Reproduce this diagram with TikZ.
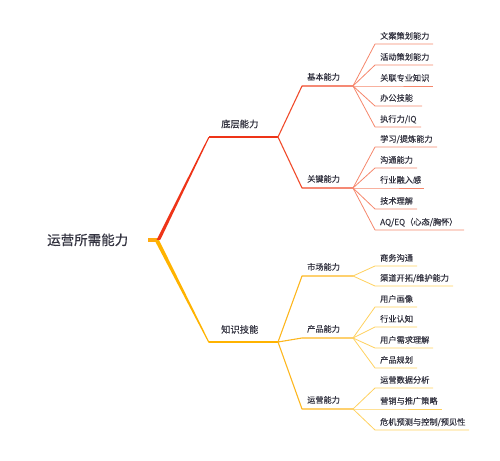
\documentclass[tikz,border=0pt]{standalone}
\usepackage{fontspec}
\setmainfont{Noto Sans CJK SC}
\newfontfamily\cjkmed[FakeBold=0.6]{Noto Sans CJK SC}
\newfontfamily\cjklight[FakeBold=0.25]{Noto Sans CJK SC}
\definecolor{redA}{HTML}{EE3418}
\definecolor{redB}{HTML}{F04A2A}
\definecolor{redC}{HTML}{F5876C}
\definecolor{yelA}{HTML}{FFB300}
\definecolor{yelB}{HTML}{FDB720}
\definecolor{yelC}{HTML}{FFD15E}
\definecolor{stub}{HTML}{FFAA10}
\definecolor{txt}{HTML}{333340}
\tikzset{
  rootlbl/.style={anchor=base west, inner sep=0pt, text=txt, font=\cjkmed\fontsize{13.5}{14}\selectfont},
  l1lbl/.style={anchor=base west, inner sep=0pt, text=txt, font=\cjkmed\fontsize{9.3}{10}\selectfont},
  l2lbl/.style={anchor=base west, inner sep=0pt, text=txt, font=\cjklight\fontsize{8.2}{9}\selectfont},
  leaflbl/.style={anchor=base west, inner sep=0pt, text=txt, font=\cjklight\fontsize{8.2}{9}\selectfont},
  l1line/.style={line width=1.3pt},
  l2line/.style={line width=1.1pt, line join=round},
  leafline/.style={line width=0.8pt, line join=round},
}
\newcommand\myleaf[6]{%
  \coordinate (#1s) at (375,#3);
  \coordinate (#1e) at (#4,#3);
  \node[leaflbl] (#1) at (380,#3-5) {#5};
  \draw[leafline,#6] (#2) -- (#1s) -- (#1e);
}
\begin{document}
\begin{tikzpicture}[x=1pt,y=-1pt]
\useasboundingbox (0,0) rectangle (500,460);

% root
\node[rootlbl] (root) at (47,245) {运营所需能力};
\coordinate (rj) at (158,240);
\coordinate (rs) at (148,240);
\draw[stub, line width=3.5pt] (rs) -- (rj);

% level 1 junction points
\coordinate (a0) at (209,137);
\coordinate (a1) at (278,137);
\coordinate (b0) at (209,342);
\coordinate (b1) at (278,342);

\fill[redA] (156,241) -- (160.5,239.5) -- (209.6,137) -- (208.4,137) -- cycle;
\fill[yelA] (154.5,240) -- (159,240) -- (209.6,342.6) -- (208.4,342.6) -- cycle;
\draw[redA, l1line] (a0) -- (a1);
\draw[yelA, l1line] (b0) -- (b1);
\node[l1lbl] (n1) at (221,127.5) {底层能力};
\node[l1lbl] (n2) at (221,333) {知识技能};

% level 2 (red)
\coordinate (p1) at (302,86);  \coordinate (j1) at (353,86);
\coordinate (p2) at (302,188); \coordinate (j2) at (353,188);
\draw[redB, l2line] (a1) -- (p1) -- (j1);
\draw[redB, l2line] (a1) -- (p2) -- (j2);
\node[l2lbl] (m1) at (307,80) {基本能力};
\node[l2lbl] (m2) at (307,182) {关键能力};

% level 2 (yellow)
\coordinate (p3) at (302,276); \coordinate (j3) at (353,276);
\coordinate (p4) at (302,338); \coordinate (j4) at (353,338);
\coordinate (p5) at (302,409); \coordinate (j5) at (353,409);
\draw[yelB, l2line] (b1) -- (p3) -- (j3);
\draw[yelB, l2line] (b1) -- (p4) -- (j4);
\draw[yelB, l2line] (b1) -- (p5) -- (j5);
\node[l2lbl] (m3) at (307,270) {市场能力};
\node[l2lbl] (m4) at (307,332) {产品能力};
\node[l2lbl] (m5) at (307,403) {运营能力};

% leaves red
\myleaf{r1}{j1}{44}{433}{文案策划能力}{redC}
\myleaf{r2}{j1}{65}{433}{活动策划能力}{redC}
\myleaf{r3}{j1}{86}{433}{关联专业知识}{redC}
\myleaf{r4}{j1}{106}{422}{办公技能}{redC}
\myleaf{r5}{j1}{127}{421}{执行力/IQ}{redC}
\myleaf{r6}{j2}{147}{437}{学习/提炼能力}{redC}
\myleaf{r7}{j2}{168}{417}{沟通能力}{redC}
\myleaf{r8}{j2}{188}{424}{行业融入感}{redC}
\myleaf{r9}{j2}{209}{417}{技术理解}{redC}
\myleaf{r10}{j2}{230}{464}{AQ/EQ（心态/胸怀）}{redC}

% leaves yellow
\myleaf{y1}{j3}{266}{417}{商务沟通}{yelC}
\myleaf{y2}{j3}{286}{453}{渠道开拓/维护能力}{yelC}
\myleaf{y3}{j4}{307}{417}{用户画像}{yelC}
\myleaf{y4}{j4}{327}{417}{行业认知}{yelC}
\myleaf{y5}{j4}{348}{433}{用户需求理解}{yelC}
\myleaf{y6}{j4}{368}{417}{产品规划}{yelC}
\myleaf{y7}{j5}{388}{433}{运营数据分析}{yelC}
\myleaf{y8}{j5}{409}{442}{营销与推广策略}{yelC}
\myleaf{y9}{j5}{430}{469}{危机预测与控制/预见性}{yelC}
\end{tikzpicture}
\end{document}
